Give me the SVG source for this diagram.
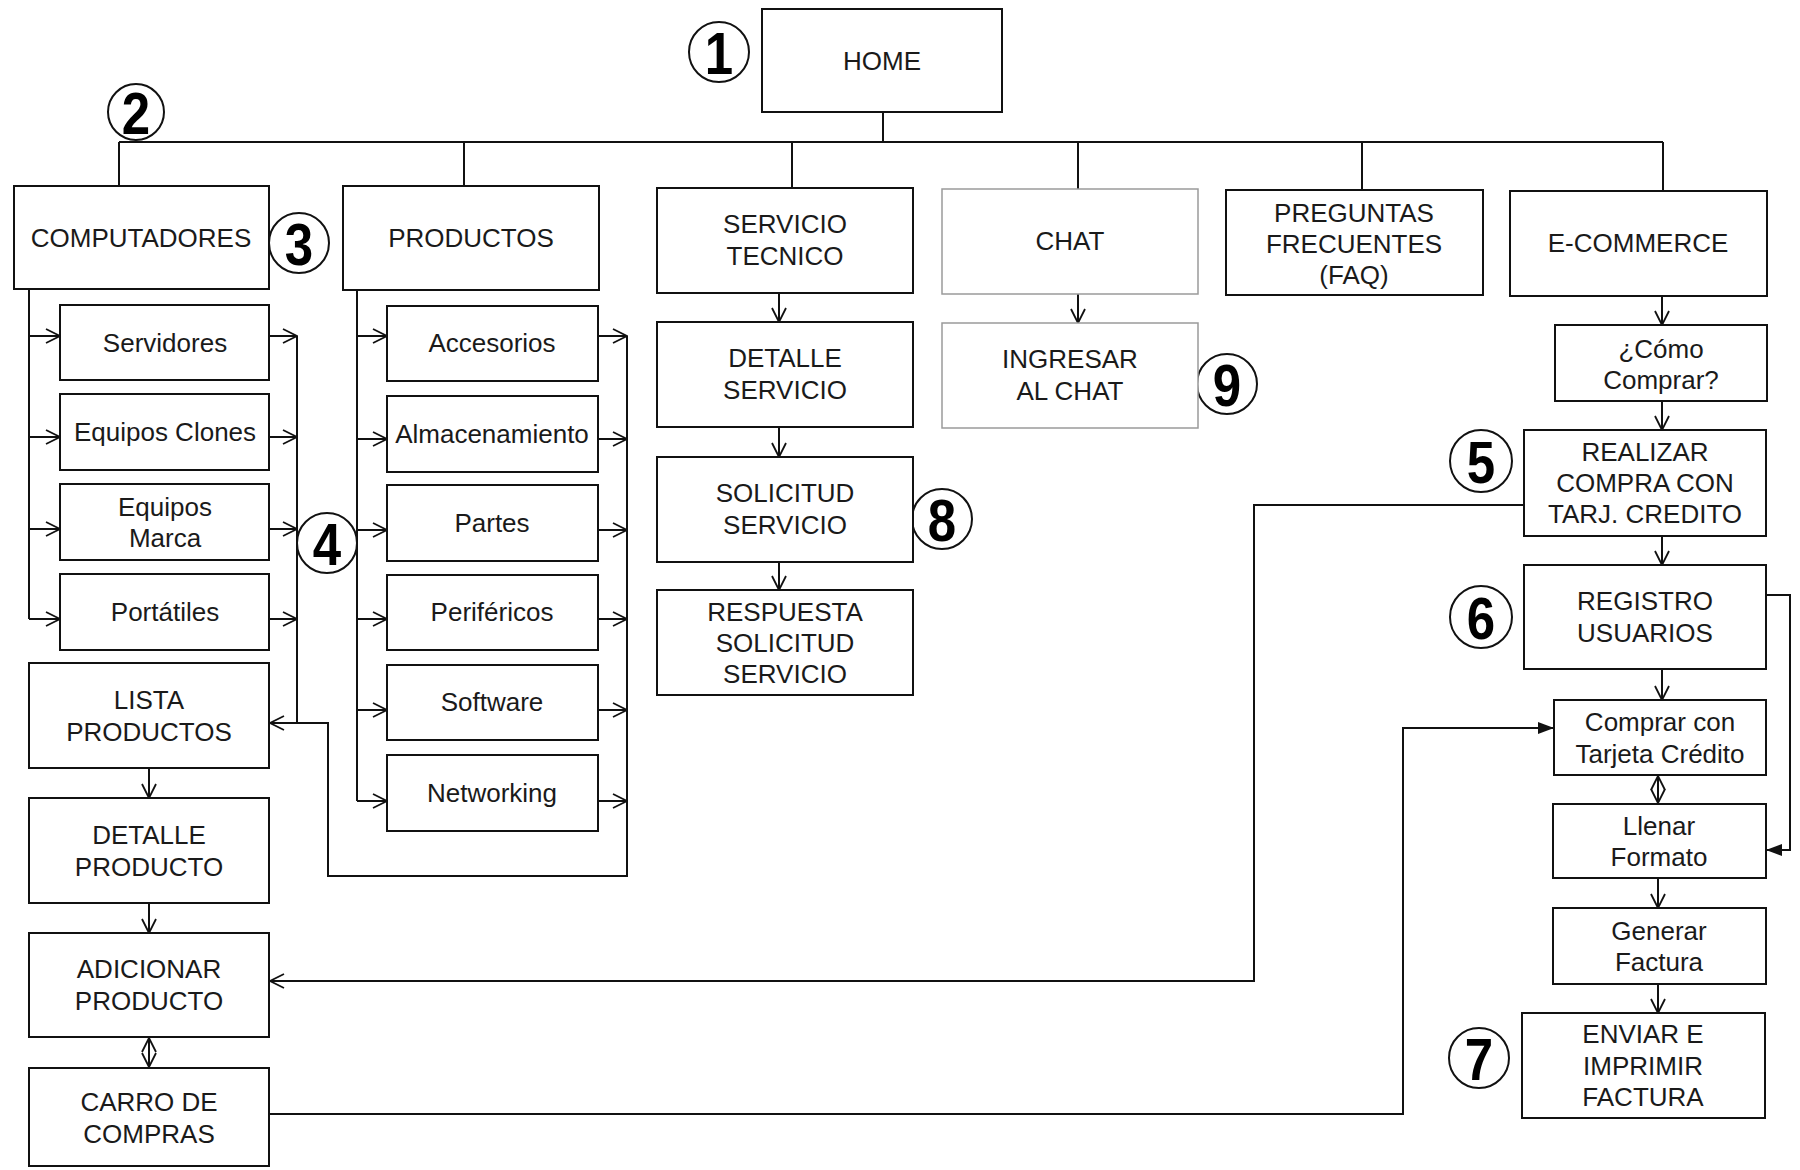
<svg xmlns="http://www.w3.org/2000/svg" width="1800" height="1170" viewBox="0 0 1800 1170">
<defs>
<style>
.box{fill:#fff;stroke:#111;stroke-width:2}
.lite{fill:#fff;stroke:#9a9a9a;stroke-width:1.5}
.t{font-family:"Liberation Sans",Arial,sans-serif;font-size:26px;fill:#1a1a1a;text-anchor:middle}
.num{font-family:"Liberation Sans",Arial,sans-serif;font-size:60px;font-weight:bold;fill:#000;text-anchor:middle}
.ring{fill:#fff;stroke:#111;stroke-width:2}
.ln{fill:none;stroke:#111;stroke-width:2}
.a{fill:none;stroke:#111;stroke-width:2;marker-end:url(#open)}
.ab{fill:none;stroke:#111;stroke-width:2;marker-end:url(#open);marker-start:url(#openS)}
.af{fill:none;stroke:#111;stroke-width:2;marker-end:url(#fill)}
</style>
<marker id="open" viewBox="0 0 16 16" markerUnits="userSpaceOnUse" markerWidth="16" markerHeight="16" refX="15" refY="8" orient="auto">
<path d="M1,1 L15,8 L1,15" fill="none" stroke="#111" stroke-width="1.8"/>
</marker>
<marker id="openS" viewBox="0 0 16 16" markerUnits="userSpaceOnUse" markerWidth="16" markerHeight="16" refX="1" refY="8" orient="auto">
<path d="M15,1 L1,8 L15,15" fill="none" stroke="#111" stroke-width="1.8"/>
</marker>
<marker id="fill" viewBox="0 0 16 12" markerUnits="userSpaceOnUse" markerWidth="16" markerHeight="12" refX="15" refY="6" orient="auto">
<path d="M0,0 L16,6 L0,12 Z" fill="#111"/>
</marker>
</defs>
<rect width="1800" height="1170" fill="#fff"/>

<g id="connectors">
<path class="ln" d="M883,112 V142 M119,142 H1663 M119,142 V186 M464,142 V186 M792,142 V188 M1078,142 V189 M1362,142 V190 M1663,142 V191"/>
<path class="ln" d="M29,289 V619 M357,290 V801"/>
<path class="a" d="M29,336 H60"/>
<path class="a" d="M29,437 H60"/>
<path class="a" d="M29,529 H60"/>
<path class="a" d="M29,619 H60"/>
<path class="a" d="M269,336 H297"/>
<path class="a" d="M269,437 H297"/>
<path class="a" d="M269,529 H297"/>
<path class="a" d="M269,619 H297"/>
<path class="ln" d="M297,336 V723"/>
<path class="a" d="M357,336 H387"/>
<path class="a" d="M357,439 H387"/>
<path class="a" d="M357,530 H387"/>
<path class="a" d="M357,619 H387"/>
<path class="a" d="M357,710 H387"/>
<path class="a" d="M357,801 H387"/>
<path class="a" d="M598,336 H627"/>
<path class="a" d="M598,439 H627"/>
<path class="a" d="M598,530 H627"/>
<path class="a" d="M598,619 H627"/>
<path class="a" d="M598,710 H627"/>
<path class="a" d="M598,801 H627"/>
<path class="a" d="M627,336 V876 H328 V723 H270"/>
<path class="a" d="M149,768 V798"/>
<path class="a" d="M149,903 V933"/>
<path class="ab" d="M149,1038 V1067"/>
<path class="a" d="M779,293 V322"/>
<path class="a" d="M779,427 V457"/>
<path class="a" d="M779,562 V590"/>
<path class="a" d="M1078,294 V323"/>
<path class="a" d="M1662,296 V325"/>
<path class="a" d="M1662,401 V430"/>
<path class="a" d="M1662,536 V565"/>
<path class="a" d="M1662,669 V700"/>
<path class="ab" d="M1658,776 V803"/>
<path class="a" d="M1658,878 V908"/>
<path class="a" d="M1658,984 V1013"/>
<path class="a" d="M1524,505 H1254 V981 H270"/>
<path class="af" d="M269,1114 H1403 V728 H1553"/>
<path class="af" d="M1766,595 H1790 V850 H1767"/>
</g>

<g id="home"><rect class="box" x="762" y="9" width="240" height="103"/><text class="t" x="882" y="70">HOME</text></g>
<g id="n1"><circle class="ring" cx="719" cy="52" r="30"/><text class="num" transform="translate(719 74) scale(0.85 1)">1</text></g>
<g id="n2"><circle class="ring" cx="136" cy="112" r="28"/><text class="num" transform="translate(136 134) scale(0.85 1)">2</text></g>
<g id="n3"><circle class="ring" cx="299" cy="243" r="30"/><text class="num" transform="translate(299 265) scale(0.85 1)">3</text></g>
<g id="n4"><circle class="ring" cx="327" cy="543" r="30"/><text class="num" transform="translate(327 565) scale(0.85 1)">4</text></g>
<g id="n5"><circle class="ring" cx="1481" cy="461" r="31"/><text class="num" transform="translate(1481 483) scale(0.85 1)">5</text></g>
<g id="n6"><circle class="ring" cx="1481" cy="617" r="31"/><text class="num" transform="translate(1481 639) scale(0.85 1)">6</text></g>
<g id="n7"><circle class="ring" cx="1479" cy="1058" r="30"/><text class="num" transform="translate(1479 1080) scale(0.85 1)">7</text></g>
<g id="n8"><circle class="ring" cx="942" cy="519" r="30"/><text class="num" transform="translate(942 541) scale(0.85 1)">8</text></g>
<g id="n9"><circle class="ring" cx="1227" cy="384" r="30"/><text class="num" transform="translate(1227 406) scale(0.85 1)">9</text></g>

<g id="computadores"><rect class="box" x="14" y="186" width="255" height="103"/><text class="t" x="141" y="247">COMPUTADORES</text></g>
<g id="productos"><rect class="box" x="343" y="186" width="256" height="104"/><text class="t" x="471" y="247">PRODUCTOS</text></g>
<g id="servicio-tecnico"><rect class="box" x="657" y="188" width="256" height="105"/><text class="t" x="785" y="233">SERVICIO</text><text class="t" x="785" y="265">TECNICO</text></g>
<g id="chat"><rect class="lite" x="942" y="189" width="256" height="105"/><text class="t" x="1070" y="250">CHAT</text></g>
<g id="faq"><rect class="box" x="1226" y="190" width="257" height="105"/><text class="t" x="1354" y="222">PREGUNTAS</text><text class="t" x="1354" y="253">FRECUENTES</text><text class="t" x="1354" y="284">(FAQ)</text></g>
<g id="ecommerce"><rect class="box" x="1510" y="191" width="257" height="105"/><text class="t" x="1638" y="252">E-COMMERCE</text></g>

<g id="servidores"><rect class="box" x="60" y="305" width="209" height="75"/><text class="t" x="165" y="352">Servidores</text></g>
<g id="equipos-clones"><rect class="box" x="60" y="394" width="209" height="76"/><text class="t" x="165" y="441">Equipos Clones</text></g>
<g id="equipos-marca"><rect class="box" x="60" y="484" width="209" height="76"/><text class="t" x="165" y="516">Equipos</text><text class="t" x="165" y="547">Marca</text></g>
<g id="portatiles"><rect class="box" x="60" y="574" width="209" height="76"/><text class="t" x="165" y="621">Portátiles</text></g>

<g id="accesorios"><rect class="box" x="387" y="306" width="211" height="75"/><text class="t" x="492" y="352">Accesorios</text></g>
<g id="almacenamiento"><rect class="box" x="387" y="396" width="211" height="76"/><text class="t" x="492" y="443">Almacenamiento</text></g>
<g id="partes"><rect class="box" x="387" y="485" width="211" height="76"/><text class="t" x="492" y="532">Partes</text></g>
<g id="perifericos"><rect class="box" x="387" y="575" width="211" height="75"/><text class="t" x="492" y="621">Periféricos</text></g>
<g id="software"><rect class="box" x="387" y="665" width="211" height="75"/><text class="t" x="492" y="711">Software</text></g>
<g id="networking"><rect class="box" x="387" y="755" width="211" height="76"/><text class="t" x="492" y="802">Networking</text></g>

<g id="lista-productos"><rect class="box" x="29" y="663" width="240" height="105"/><text class="t" x="149" y="709">LISTA</text><text class="t" x="149" y="741">PRODUCTOS</text></g>
<g id="detalle-producto"><rect class="box" x="29" y="798" width="240" height="105"/><text class="t" x="149" y="844">DETALLE</text><text class="t" x="149" y="876">PRODUCTO</text></g>
<g id="adicionar-producto"><rect class="box" x="29" y="933" width="240" height="104"/><text class="t" x="149" y="978">ADICIONAR</text><text class="t" x="149" y="1010">PRODUCTO</text></g>
<g id="carro-compras"><rect class="box" x="29" y="1068" width="240" height="98"/><text class="t" x="149" y="1111">CARRO DE</text><text class="t" x="149" y="1143">COMPRAS</text></g>

<g id="detalle-servicio"><rect class="box" x="657" y="322" width="256" height="105"/><text class="t" x="785" y="367">DETALLE</text><text class="t" x="785" y="399">SERVICIO</text></g>
<g id="solicitud-servicio"><rect class="box" x="657" y="457" width="256" height="105"/><text class="t" x="785" y="502">SOLICITUD</text><text class="t" x="785" y="534">SERVICIO</text></g>
<g id="respuesta-solicitud"><rect class="box" x="657" y="590" width="256" height="105"/><text class="t" x="785" y="621">RESPUESTA</text><text class="t" x="785" y="652">SOLICITUD</text><text class="t" x="785" y="683">SERVICIO</text></g>
<g id="ingresar-chat"><rect class="lite" x="942" y="323" width="256" height="105"/><text class="t" x="1070" y="368">INGRESAR</text><text class="t" x="1070" y="400">AL CHAT</text></g>

<g id="como-comprar"><rect class="box" x="1555" y="325" width="212" height="76"/><text class="t" x="1661" y="358">¿Cómo</text><text class="t" x="1661" y="389">Comprar?</text></g>
<g id="realizar-compra"><rect class="box" x="1524" y="430" width="242" height="106"/><text class="t" x="1645" y="461">REALIZAR</text><text class="t" x="1645" y="492">COMPRA CON</text><text class="t" x="1645" y="523">TARJ. CREDITO</text></g>
<g id="registro-usuarios"><rect class="box" x="1524" y="565" width="242" height="104"/><text class="t" x="1645" y="610">REGISTRO</text><text class="t" x="1645" y="642">USUARIOS</text></g>
<g id="comprar-tarjeta"><rect class="box" x="1554" y="700" width="212" height="75"/><text class="t" x="1660" y="731">Comprar con</text><text class="t" x="1660" y="763">Tarjeta Crédito</text></g>
<g id="llenar-formato"><rect class="box" x="1553" y="804" width="213" height="74"/><text class="t" x="1659" y="835">Llenar</text><text class="t" x="1659" y="866">Formato</text></g>
<g id="generar-factura"><rect class="box" x="1553" y="908" width="213" height="76"/><text class="t" x="1659" y="940">Generar</text><text class="t" x="1659" y="971">Factura</text></g>
<g id="enviar-factura"><rect class="box" x="1522" y="1013" width="243" height="105"/><text class="t" x="1643" y="1043">ENVIAR E</text><text class="t" x="1643" y="1075">IMPRIMIR</text><text class="t" x="1643" y="1106">FACTURA</text></g>
</svg>
